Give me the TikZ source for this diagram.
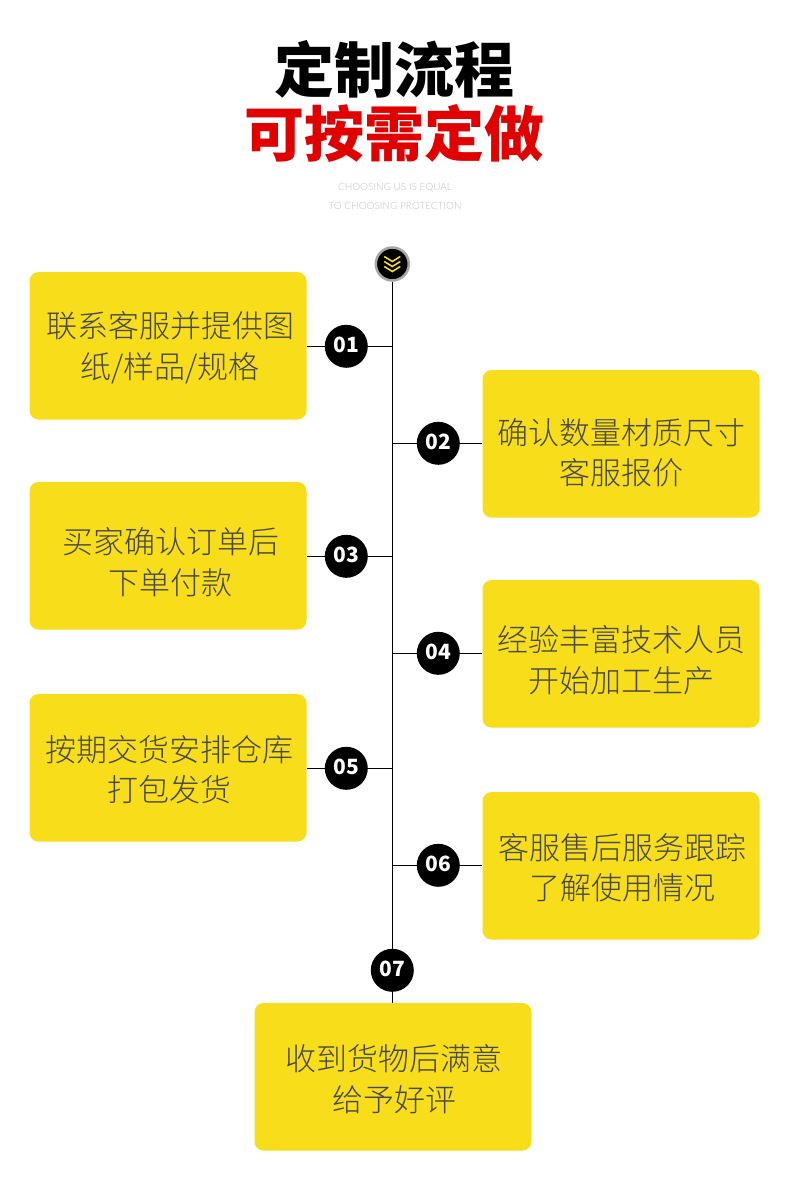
\documentclass[tikz,border=0pt]{standalone}
\usepackage{fontspec}
\setmainfont{Noto Sans CJK SC}
\newfontfamily\latinlight{Lato Light}
\newfontfamily\bodylight{Noto Sans CJK SC Light}
\definecolor{boxyellow}{HTML}{F8DE1A}
\definecolor{boxtext}{HTML}{484848}
\definecolor{titlered}{HTML}{E00000}
\definecolor{subgrey}{HTML}{C0C0C0}
\definecolor{chevyellow}{HTML}{FFE61E}
\tikzset{
  stepbox/.style={fill=boxyellow,draw=none,rounded corners=9pt,minimum width=277pt,minimum height=147.5pt,inner sep=0pt},
  steptext/.style={inner sep=0pt,text=boxtext,align=center,font=\fontsize{31pt}{40.5pt}\bodylight\selectfont},
  badge/.style={circle,fill=black,draw=none,minimum size=43pt,inner sep=0pt},
  badgetext/.style={inner sep=0pt,text=white,font=\fontsize{21pt}{21pt}\selectfont\bfseries},
  wire/.style={draw=black,line width=1.1pt},
  chev/.style={draw=chevyellow,line width=1.5pt},
  titleline/.style={inner sep=0pt,font=\fontsize{60pt}{60pt}\selectfont\bfseries},
  subline/.style={inner sep=0pt,text=subgrey,font=\fontsize{10pt}{10pt}\latinlight},
}
\begin{document}
\begin{tikzpicture}[x=1pt,y=-1pt]
\useasboundingbox (0,0) rectangle (790,1196);
\fill[white] (0,0) rectangle (790,1196);
\node[titleline,text=black] (t1) at (394,69) {定制流程};
\node[titleline,text=titlered] (t2) at (394,133) {可按需定做};
\node[subline] (s1) at (395,187.5) {CHOOSING US IS EQUAL};
\node[subline] (s2) at (395,205.5) {TO CHOOSING PROTECTION};

\coordinate (j1) at (392.3,346.3);
\coordinate (j2) at (392.3,443.3);
\coordinate (j3) at (392.3,556.3);
\coordinate (j4) at (392.3,653.3);
\coordinate (j5) at (392.3,768.3);
\coordinate (j6) at (392.3,865.3);

\node[stepbox] (b1) at (168,345.8) {};
\node[stepbox] (b2) at (621,443.8) {};
\node[stepbox] (b3) at (168,555.8) {};
\node[stepbox] (b4) at (621,653.8) {};
\node[stepbox] (b5) at (168,767.8) {};
\node[stepbox] (b6) at (621,865.8) {};
\node[stepbox] (b7) at (393,1076.8) {};

\node[steptext] (x1) at (170,347.8) {联系客服并提供图\\纸/样品/规格};
\node[steptext] (x2) at (621.5,452.8) {确认数量材质尺寸\\客服报价};
\node[steptext] (x3) at (170.5,562.3) {买家确认订单后\\下单付款};
\node[steptext] (x4) at (621.5,660.3) {经验丰富技术人员\\开始加工生产};
\node[steptext] (x5) at (169.7,769.8) {按期交货安排仓库\\打包发货};
\node[steptext] (x6) at (622.5,867.8) {客服售后服务跟踪\\了解使用情况};
\node[steptext] (x7) at (394,1079.3) {收到货物后满意\\给予好评};

\node[circle,fill=black,draw=black!35,line width=2.5pt,minimum size=33pt,inner sep=0pt] (top) at (392.3,264) {};

\draw[wire] (top) -- (b7.north -| top);
\draw[wire] (b1.east |- j1) -- (j1);
\draw[wire] (j2) -- (b2.west |- j2);
\draw[wire] (b3.east |- j3) -- (j3);
\draw[wire] (j4) -- (b4.west |- j4);
\draw[wire] (b5.east |- j5) -- (j5);
\draw[wire] (j6) -- (b6.west |- j6);

\node[badge] (n1) at (346.3,346.3) {};
\node[badge] (n2) at (438.3,443.3) {};
\node[badge] (n3) at (346.3,556.3) {};
\node[badge] (n4) at (438.3,653.3) {};
\node[badge] (n5) at (346.3,768.3) {};
\node[badge] (n6) at (438.3,865.3) {};
\node[badge] (n7) at (392.3,970.3) {};
\foreach \n/\t in {1/01,2/02,3/03,4/04,5/05,6/06,7/07}
  \node[badgetext] (l\n) at ([yshift=1.3pt]n\n.center) {\t};

\draw[chev] ([shift={(-8,-7.5)}]top.center) -- ++(8,5) -- ++(8,-5);
\draw[chev] ([shift={(-8,-2.5)}]top.center) -- ++(8,5) -- ++(8,-5);
\draw[chev] ([shift={(-8,2.5)}]top.center) -- ++(8,5) -- ++(8,-5);
\end{tikzpicture}
\end{document}
